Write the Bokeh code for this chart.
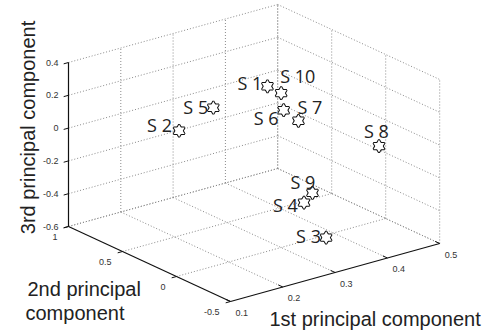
import numpy as np
from bokeh.plotting import figure
from bokeh.models import Range1d
from bokeh.core.properties import value
from bokeh.embed import file_html
from bokeh.resources import INLINE

# ---- data ----
labels = ["S 1", "S 2", "S 3", "S 4", "S 5", "S 6", "S 7", "S 8", "S 9", "S 10"]
pc1 = [0.34, 0.20, 0.32, 0.35, 0.22, 0.34, 0.36, 0.45, 0.36, 0.36]
pc2 = [0.32, 0.46, -0.32, 0.03, 0.24, 0.17, 0.13, -0.18, 0.00, 0.29]
pc3 = [0.25, 0.06, -0.46, -0.38, 0.25, 0.15, 0.08, -0.06, -0.32, 0.20]

x_ticks = [0.1, 0.2, 0.3, 0.4, 0.5]
y_ticks = [-0.5, 0, 0.5, 1]
z_ticks = [-0.6, -0.4, -0.2, 0, 0.2, 0.4]
x_tick_labels = ["0.1", "0.2", "0.3", "0.4", "0.5"]
y_tick_labels = ["-0.5", "0", "0.5", "1"]
z_tick_labels = ["-0.6", "-0.4", "-0.2", "0", "0.2", "0.4"]

# label pixel offsets (style)
label_dx = [-30, -32, -30, -31, -30, -30, -1, -15, -22, -1]
label_dy = [-3, -6, -2, 2, -1, 8, -14, -15, -11, -17]

W, H = 482, 330
XMIN, XMAX = min(x_ticks), max(x_ticks)
YMIN, YMAX = min(y_ticks), max(y_ticks)
ZMIN, ZMAX = min(z_ticks), max(z_ticks)

# 3D -> screen projection (view of the axes box)
O = np.array([68.0, 226.0])
EX = np.array([523.0, -145.0])   # per unit of 1st component
EY = np.array([-108.0, -50.0])   # per unit of 2nd component
EZ = np.array([0.0, -164.0])     # per unit of 3rd component


def proj(x, y, z):
    x = np.asarray(x, float); y = np.asarray(y, float); z = np.asarray(z, float)
    sx = O[0] + (x - XMIN) * EX[0] + (y - YMAX) * EY[0] + (z - ZMIN) * EZ[0]
    sy = O[1] + (x - XMIN) * EX[1] + (y - YMAX) * EY[1] + (z - ZMIN) * EZ[1]
    return sx, sy


p = figure(width=W, height=H, output_backend="svg", toolbar_location=None,
           x_range=Range1d(0, W), y_range=Range1d(H, 0),
           x_axis_type=None, y_axis_type=None, min_border=0)
p.grid.visible = False
p.outline_line_color = None
p.background_fill_color = "white"

# ---- grid (dotted) ----
segs = []
for z in z_ticks:
    segs.append(((XMIN, YMAX, z), (XMAX, YMAX, z)))
    segs.append(((XMAX, YMAX, z), (XMAX, YMIN, z)))
for x in x_ticks[1:]:
    segs.append(((x, YMAX, ZMIN), (x, YMAX, ZMAX)))
for y in y_ticks:
    segs.append(((XMAX, y, ZMIN), (XMAX, y, ZMAX)))
for x in x_ticks[1:]:
    segs.append(((x, YMAX, ZMIN), (x, YMIN, ZMIN)))
for y in y_ticks[1:]:
    segs.append(((XMIN, y, ZMIN), (XMAX, y, ZMIN)))
a = np.array([s[0] for s in segs]); b = np.array([s[1] for s in segs])
x0, y0 = proj(a[:, 0], a[:, 1], a[:, 2])
x1, y1 = proj(b[:, 0], b[:, 1], b[:, 2])
p.segment(x0, y0, x1, y1, line_color="#8a8a8a", line_width=1, line_dash="1 2")

# ---- axes (solid) ----
axes = [((XMIN, YMAX, ZMIN), (XMIN, YMAX, ZMAX)),
        ((XMIN, YMAX, ZMIN), (XMIN, YMIN, ZMIN)),
        ((XMIN, YMIN, ZMIN), (XMAX, YMIN, ZMIN))]
a = np.array([s[0] for s in axes]); b = np.array([s[1] for s in axes])
x0, y0 = proj(a[:, 0], a[:, 1], a[:, 2])
x1, y1 = proj(b[:, 0], b[:, 1], b[:, 2])
p.segment(x0, y0, x1, y1, line_color="#111111", line_width=1.2)

# ticks
un = EX / np.linalg.norm(EX)
vn = EY / np.linalg.norm(EY)
tl = 5
tzx, tzy = proj([XMIN] * len(z_ticks), [YMAX] * len(z_ticks), z_ticks)
p.segment(tzx, tzy, tzx - un[0] * tl, tzy - un[1] * tl, line_color="#111111")
tyx, tyy = proj([XMIN] * len(y_ticks), y_ticks, [ZMIN] * len(y_ticks))
p.segment(tyx, tyy, tyx - un[0] * tl, tyy - un[1] * tl, line_color="#111111")
txx, txy = proj(x_ticks, [YMIN] * len(x_ticks), [ZMIN] * len(x_ticks))
p.segment(txx, txy, txx + vn[0] * tl, txy + vn[1] * tl, line_color="#111111")

tick_font = dict(text_font=value("Liberation Sans"), text_font_size="9px",
                 text_color="#333333", text_baseline="middle")
p.text(tzx - 10, tzy, text=z_tick_labels, text_align="right", **tick_font)
p.text(tyx - 11, tyy + 10, text=y_tick_labels, text_align="right", **tick_font)
p.text(txx + 5, txy + 11, text=x_tick_labels, text_align="left", **tick_font)

# ---- axis titles ----
title_font = dict(text_font=value("Liberation Sans"), text_font_size="20px",
                  text_color="#222222", text_baseline="middle")
p.text([27], [127], text=["3rd principal component"], angle=np.pi / 2,
       text_align="center", **title_font)
p.text([27, 25], [288, 312], text=["2nd principal", "component"],
       text_align="left", **title_font)
p.text([269], [318], text=["1st principal component"], text_align="left", **title_font)

# ---- points (hexagram markers) ----
px, py = proj(pc1, pc2, pc3)
ms = 11
for m in ["triangle", "inverted_triangle"]:
    p.scatter(px, py, marker=m, size=ms, line_color="#111111", line_width=2,
              fill_color="white")
for m in ["triangle", "inverted_triangle"]:
    p.scatter(px, py, marker=m, size=ms, line_color=None, fill_color="white")

p.text(px + np.array(label_dx), py + np.array(label_dy), text=labels,
       text_font=value("Open Sans"), text_font_size="18px", text_color="#222222",
       text_align="left", text_baseline="middle")

open("out.html", "w").write(file_html(p, INLINE))
